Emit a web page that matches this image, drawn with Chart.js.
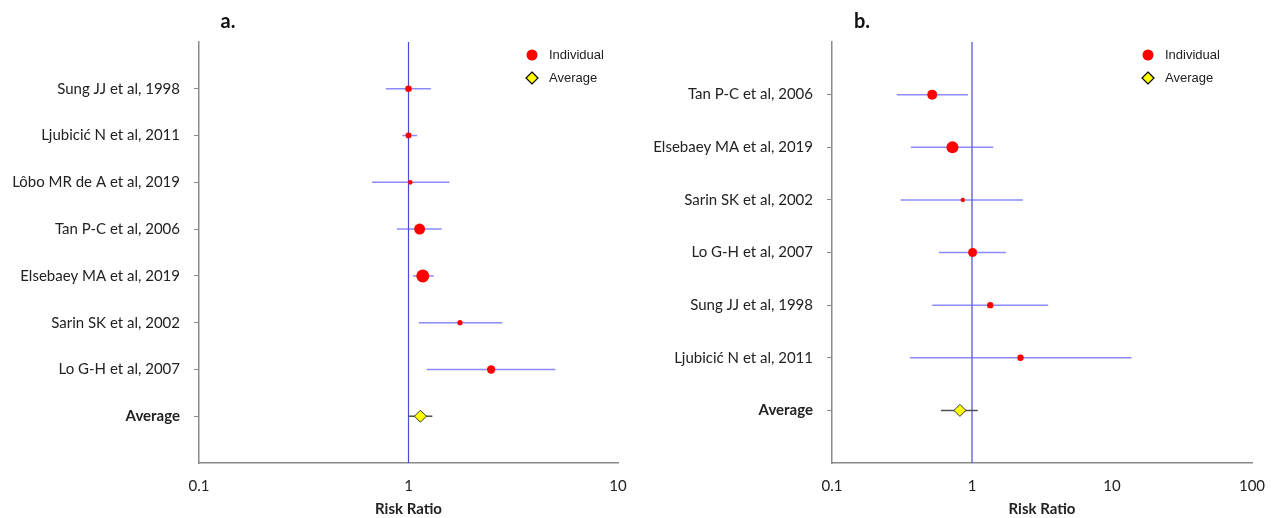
<!DOCTYPE html>
<html>
<head>
<meta charset="utf-8">
<script src="https://cdn.jsdelivr.net/npm/chart.js@4.4.1/dist/chart.umd.min.js"></script>
<style>
  html, body { margin: 0; padding: 0; background: #fff; }
  .wrap { display: flex; width: 1277px; height: 518px; }
  canvas { display: block; }
</style>
</head>
<body>
<div class="wrap">
  <canvas id="chartA" width="640" height="518"></canvas>
  <canvas id="chartB" width="637" height="518"></canvas>
</div>
<script>
// --- Data: panel a ---
const studiesA = ["Sung JJ et al, 1998", "Ljubicić N et al, 2011", "Lôbo MR de A et al, 2019", "Tan P-C et al, 2006",
                  "Elsebaey MA et al, 2019", "Sarin SK et al, 2002", "Lo G-H et al, 2007", "Average"];
const rrA   = [1.00, 1.00, 1.02, 1.13, 1.17, 1.76, 2.48, 1.14];
const lowA  = [0.78, 0.935, 0.67, 0.88, 1.05, 1.12, 1.22, 1.00];
const highA = [1.28, 1.10, 1.57, 1.44, 1.32, 2.80, 5.02, 1.30];
const sizeA = [3.3, 3, 2.3, 5.5, 6.5, 2.6, 4.2];
const xTicksA = [0.1, 1, 10];

// --- Data: panel b ---
const studiesB = ["Tan P-C et al, 2006", "Elsebaey MA et al, 2019", "Sarin SK et al, 2002", "Lo G-H et al, 2007",
                  "Sung JJ et al, 1998", "Ljubicić N et al, 2011", "Average"];
const rrB   = [0.52, 0.725, 0.86, 1.01, 1.35, 2.22, 0.82];
const lowB  = [0.29, 0.366, 0.31, 0.58, 0.52, 0.36, 0.60];
const highB = [0.935, 1.42, 2.31, 1.75, 3.50, 13.8, 1.10];
const sizeB = [5, 6, 2.2, 4.5, 3.2, 3.2];
const xTicksB = [0.1, 1, 10, 100];

const labelFont = "Lato, 'Open Sans', sans-serif";
Chart.defaults.font.family = labelFont;
Chart.defaults.color = "#222";

// legend + panel letter drawn on the canvas
const panelDecor = {
  id: 'panelDecor',
  afterDraw(chart, args, opts) {
    const c = chart.ctx;
    c.save();
    c.font = "bold 20px " + labelFont;
    c.fillStyle = "#111";
    c.textAlign = "center";
    c.textBaseline = "middle";
    c.fillText(opts.letter, opts.letterX, 22);

    const lx = opts.legendX;
    c.beginPath();
    c.arc(lx, 55, 5.5, 0, Math.PI * 2);
    c.fillStyle = "#ff0000";
    c.fill();
    c.beginPath();
    c.moveTo(lx, 72); c.lineTo(lx + 6, 78); c.lineTo(lx, 84); c.lineTo(lx - 6, 78); c.closePath();
    c.fillStyle = "#ffff00";
    c.fill();
    c.lineWidth = 1.2;
    c.strokeStyle = "#000";
    c.stroke();
    c.font = "13px Arial, 'Liberation Sans', sans-serif";
    c.fillStyle = "#222";
    c.textAlign = "left";
    c.fillText("Individual", lx + 17, 55);
    c.fillText("Average", lx + 17, 78);
    c.restore();
  }
};

const makeForest = (id, studies, rr, low, high, size, xTicks, xMax, dims) => {
  const n = studies.length;
  const datasets = [];

  // reference line at RR = 1
  datasets.push({
    type: 'line',
    data: [{ x: 1, y: 0 }, { x: 1, y: n + 1 }],
    borderColor: '#4a4ad8',
    borderWidth: 1.2,
    pointRadius: 0,
    order: 3
  });

  // confidence intervals
  for (let i = 0; i < n; i++) {
    const isAvg = i === n - 1;
    datasets.push({
      type: 'line',
      data: [{ x: low[i], y: i + 1 }, { x: high[i], y: i + 1 }],
      borderColor: isAvg ? '#505050' : 'rgba(100,100,255,0.75)',
      borderWidth: 1.5,
      pointRadius: 0,
      order: 2
    });
  }

  // individual studies
  datasets.push({
    type: 'scatter',
    data: rr.slice(0, n - 1).map((v, i) => ({ x: v, y: i + 1 })),
    pointRadius: size,
    pointBackgroundColor: '#ff0000',
    pointBorderWidth: 0,
    order: 0
  });

  // average
  datasets.push({
    type: 'scatter',
    data: [{ x: rr[n - 1], y: n }],
    pointStyle: 'rectRot',
    pointRadius: 6,
    pointBackgroundColor: '#ffff00',
    pointBorderColor: '#333',
    pointBorderWidth: 1,
    order: 0
  });

  return new Chart(document.getElementById(id), {
    type: 'scatter',
    data: { datasets },
    plugins: [panelDecor],
    options: {
      responsive: false,
      animation: false,
      devicePixelRatio: 1,
      layout: { padding: { top: 42, right: dims.right, left: 0, bottom: 0 } },
      plugins: {
        legend: { display: false },
        tooltip: { enabled: false },
        panelDecor: { letter: dims.letter, letterX: dims.letterX, legendX: dims.legendX }
      },
      scales: {
        x: {
          type: 'logarithmic',
          min: 0.1,
          max: xMax,
          afterBuildTicks: s => { s.ticks = xTicks.map(v => ({ value: v })); },
          afterFit: s => { s.height = 55; },
          grid: { display: false },
          border: { display: true, color: '#8a8a8a', width: 1.5 },
          ticks: {
            padding: 6,
            font: { size: 15 },
            color: '#222',
            callback: v => String(v)
          },
          title: {
            display: true,
            text: 'Risk Ratio',
            font: { size: 15, weight: 'bold' },
            color: '#222',
            padding: { top: 0, bottom: 0 }
          }
        },
        y: {
          type: 'linear',
          min: 0,
          max: n + 1,
          reverse: true,
          afterBuildTicks: s => { s.ticks = studies.map((_, i) => ({ value: i + 1 })); },
          afterFit: s => { s.width = dims.left; },
          grid: { drawOnChartArea: false, drawTicks: true, tickLength: 5, color: '#8a8a8a' },
          border: { display: true, color: '#8a8a8a', width: 1.5 },
          ticks: {
            padding: 14,
            color: '#222',
            font: ctx => ({ size: 15, weight: ctx.tick && ctx.tick.value === n ? 'bold' : 'normal' }),
            callback: v => studies[v - 1]
          }
        }
      }
    }
  });
};

makeForest('chartA', studiesA, rrA, lowA, highA, sizeA, xTicksA, 10,
  { left: 199, right: 22, letter: 'a.', letterX: 228, legendX: 532 });
makeForest('chartB', studiesB, rrB, lowB, highB, sizeB, xTicksB, 100,
  { left: 192, right: 25, letter: 'b.', letterX: 222, legendX: 508 });
</script>
</body>
</html>
